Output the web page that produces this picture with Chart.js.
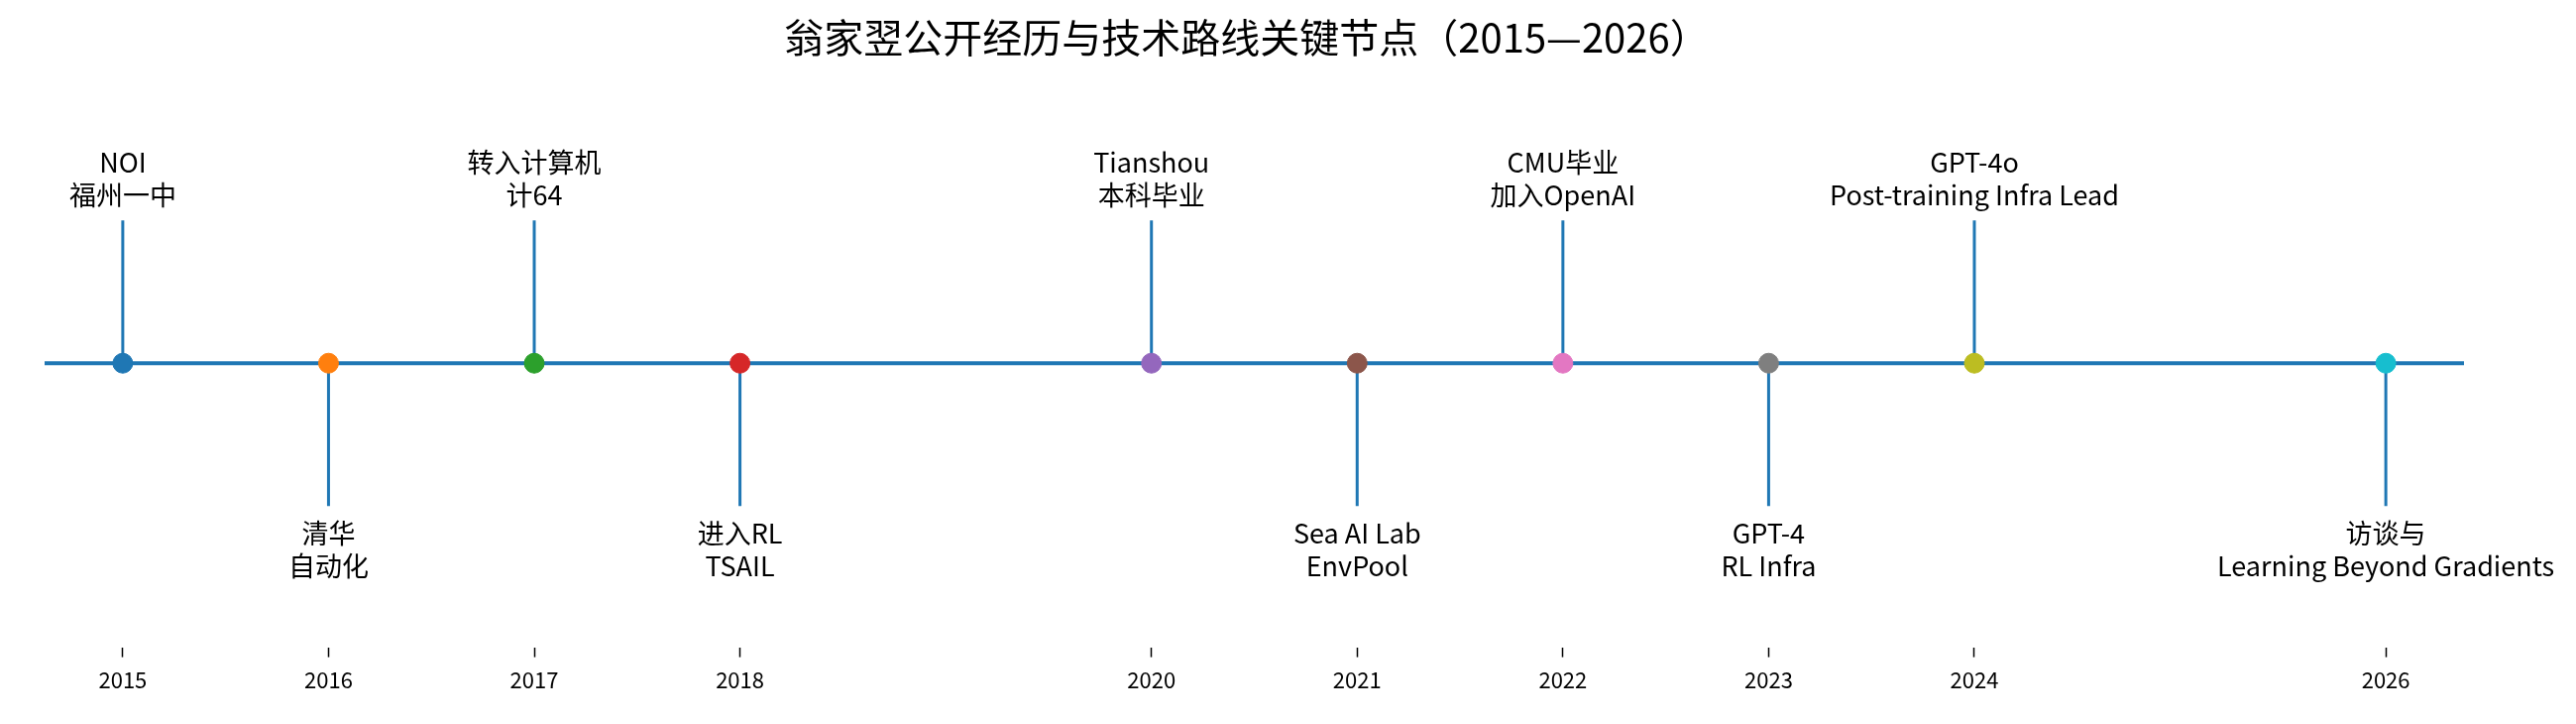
<!DOCTYPE html>
<html><head><meta charset="utf-8">
<script src="https://cdn.jsdelivr.net/npm/chart.js@4"></script>
<style>html,body{margin:0;padding:0;background:#fff}#wrap{width:2599px;height:730px}</style>
</head><body><div id="wrap"><canvas id="c"></canvas></div>
<script>
const years = [2015, 2016, 2017, 2018, 2020, 2021, 2022, 2023, 2024, 2026];
const sides = [1, -1, 1, -1, 1, -1, 1, -1, 1, -1];
const labels = [
  ["NOI", "福州一中"], ["清华", "自动化"], ["转入计算机", "计64"], ["进入RL", "TSAIL"],
  ["Tianshou", "本科毕业"], ["Sea AI Lab", "EnvPool"], ["CMU毕业", "加入OpenAI"],
  ["GPT-4", "RL Infra"], ["GPT-4o", "Post-training Infra Lead"], ["访谈与", "Learning Beyond Gradients"]
];
const colors = ["#1f77b4","#ff7f0e","#2ca02c","#d62728","#9467bd","#8c564b","#e377c2","#7f7f7f","#bcbd22","#17becf"];
const tickYears = [2015, 2016, 2017, 2018, 2020, 2021, 2022, 2023, 2024, 2026];
const title = "翁家翌公开经历与技术路线关键节点（2015—2026）";
const FONT = "'Noto Sans CJK SC','Noto Sans',sans-serif";

const stemData = [];
years.forEach((y,i)=>{stemData.push({x:y,y:0},{x:y,y:sides[i]},{x:y,y:null});});

const textPlugin = {
  id:'txt',
  afterDatasetsDraw(chart){
    const ctx=chart.ctx, xs=chart.scales.x, ys=chart.scales.y;
    ctx.save();
    ctx.fillStyle='#000'; ctx.textAlign='center';
    ctx.font="27px "+FONT;
    years.forEach((y,i)=>{
      const px=xs.getPixelForValue(y), py=ys.getPixelForValue(sides[i]);
      const lh=33;
      if(sides[i]>0){
        ctx.textBaseline='bottom';
        ctx.fillText(labels[i][1],px,py-12);
        ctx.fillText(labels[i][0],px,py-12-lh);
      } else {
        ctx.textBaseline='top';
        ctx.fillText(labels[i][0],px,py+14);
        ctx.fillText(labels[i][1],px,py+14+lh);
      }
    });
    ctx.font="40px "+FONT; ctx.textBaseline='middle';
    ctx.fillText(title,1258,38);
    ctx.restore();
  }
};

new Chart(document.getElementById('c'),{
  type:'scatter',
  data:{datasets:[
    {type:'line',data:[{x:2014.62,y:0},{x:2026.38,y:0}],borderColor:'#1f77b4',borderWidth:4,pointRadius:0,order:3},
    {type:'line',data:stemData,borderColor:'#1f77b4',borderWidth:3,pointRadius:0,spanGaps:false,order:2},
    {data:years.map(y=>({x:y,y:0})),backgroundColor:colors,borderColor:colors,pointRadius:10,order:1}
  ]},
  options:{
    responsive:true,maintainAspectRatio:false,animation:false,
    layout:{padding:{top:100,bottom:21,left:45,right:113}},
    plugins:{legend:{display:false},tooltip:{enabled:false}},
    scales:{
      x:{type:'linear',min:2014.62,max:2026.38,
        afterBuildTicks(s){s.ticks=tickYears.map(v=>({value:v}));},
        grid:{drawOnChartArea:false,tickLength:10,color:'#000',tickWidth:1.5},
        border:{display:false},
        ticks:{color:'#000',font:{size:22,family:FONT},padding:10,callback:v=>String(v),maxRotation:0,autoSkip:false}},
      y:{display:false,min:-1.99,max:1.85}
    }
  },
  plugins:[textPlugin]
});
</script></body></html>
